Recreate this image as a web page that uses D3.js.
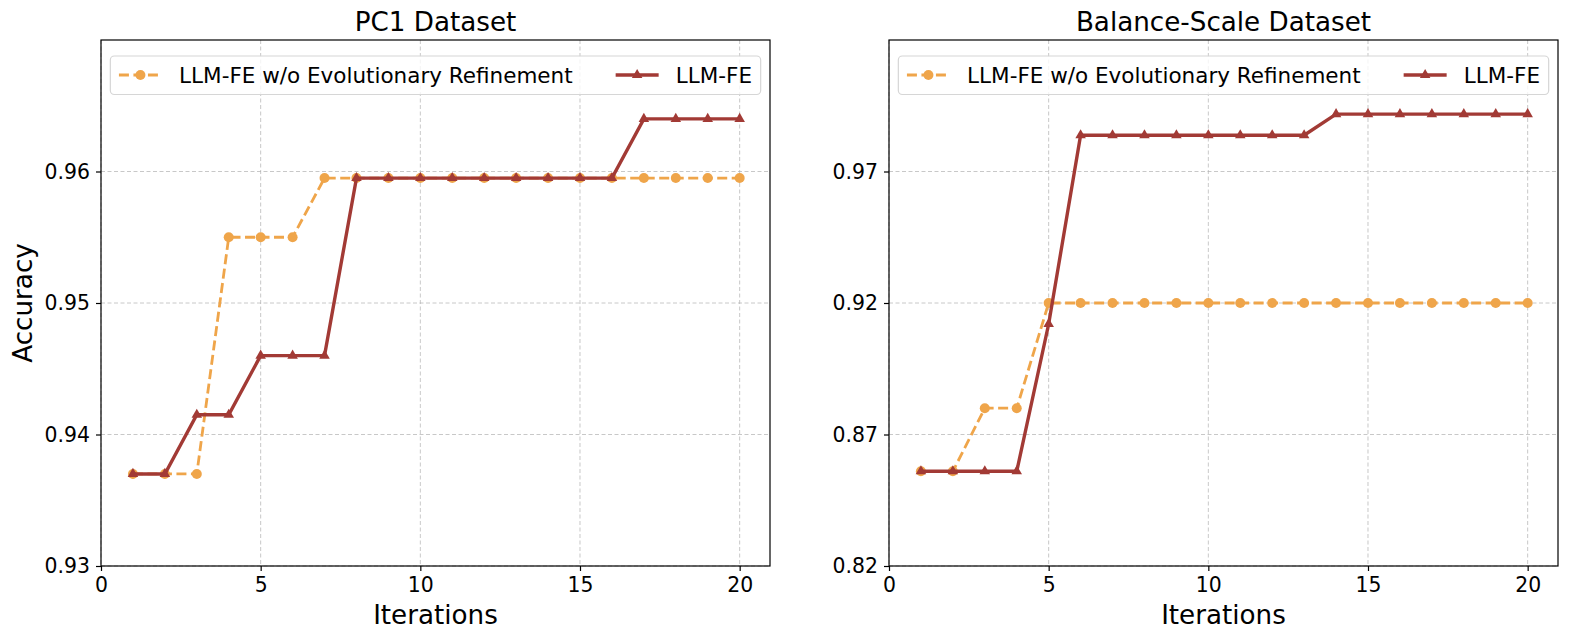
<!DOCTYPE html>
<html>
<head>
<meta charset="utf-8">
<script src="https://cdn.jsdelivr.net/npm/d3@7"></script>
<style>
  html, body { margin: 0; padding: 0; background: #fff; }
  svg { display: block; font-family: "DejaVu Sans", sans-serif; }
</style>
</head>
<body>
<svg id="chart" width="1578" height="641"></svg>
<script>
// ---- data ----
const iterations = [1,2,3,4,5,6,7,8,9,10,11,12,13,14,15,16,17,18,19,20];

const pc1Baseline = [0.937,0.937,0.937,0.955,0.955,0.955,0.9595,0.9595,0.9595,0.9595,
                     0.9595,0.9595,0.9595,0.9595,0.9595,0.9595,0.9595,0.9595,0.9595,0.9595];
const pc1LLMFE    = [0.937,0.937,0.9415,0.9415,0.946,0.946,0.946,0.9595,0.9595,0.9595,
                     0.9595,0.9595,0.9595,0.9595,0.9595,0.9595,0.964,0.964,0.964,0.964];

const bsBaseline  = [0.856,0.856,0.880,0.880,0.920,0.920,0.920,0.920,0.920,0.920,
                     0.920,0.920,0.920,0.920,0.920,0.920,0.920,0.920,0.920,0.920];
const bsLLMFE     = [0.856,0.856,0.856,0.856,0.912,0.9838,0.9838,0.9838,0.9838,0.9838,
                     0.9838,0.9838,0.9838,0.9918,0.9918,0.9918,0.9918,0.9918,0.9918,0.9918];

const xTicks = [0,5,10,15,20];
const pc1YTicks = [0.93,0.94,0.95,0.96];
const bsYTicks  = [0.82,0.87,0.92,0.97];

const seriesNames = ["LLM-FE w/o Evolutionary Refinement", "LLM-FE"];
const titles = ["PC1 Dataset", "Balance-Scale Dataset"];

// ---- style ----
const ORANGE = "#EFA54A";
const RED = "#A23A35";
const TICK_FS = 20.4, LABEL_FS = 26.2, LEG_FS = 21.5;

const svg = d3.select("#chart");

function panel(cfg) {
  const {left, right, top, bottom, xDomain, yDomain, yTicks, base, full, title, ylabel} = cfg;
  const x = d3.scaleLinear().domain(xDomain).range([left, right]);
  const y = d3.scaleLinear().domain(yDomain).range([bottom, top]);
  const g = svg.append("g");

  // grid
  const grid = g.append("g").attr("stroke", "#b0b0b0").attr("stroke-opacity", 0.7)
    .attr("stroke-width", 1).attr("stroke-dasharray", "4,2.5");
  grid.selectAll(".gx").data(xTicks).join("line")
    .attr("x1", d => x(d)).attr("x2", d => x(d)).attr("y1", top).attr("y2", bottom);
  grid.selectAll(".gy").data(yTicks).join("line")
    .attr("x1", left).attr("x2", right).attr("y1", d => y(d)).attr("y2", d => y(d));

  // axes
  const xAxis = d3.axisBottom(x).tickValues(xTicks).tickFormat(d3.format("d")).tickSizeOuter(0).tickSize(5).tickPadding(7);
  const yAxis = d3.axisLeft(y).tickValues(yTicks).tickFormat(d3.format(".2f")).tickSizeOuter(0).tickSize(5).tickPadding(6);
  const gx = g.append("g").attr("transform", `translate(0,${bottom})`).call(xAxis);
  const gy = g.append("g").attr("transform", `translate(${left},0)`).call(yAxis);
  [gx, gy].forEach(a => {
    a.select(".domain").remove();
    a.selectAll("text").attr("font-size", TICK_FS).attr("fill", "#000").attr("font-family", "DejaVu Sans");
    a.selectAll("line").attr("stroke", "#000").attr("stroke-width", 1.2);
  });

  // lines
  const line = d3.line().x((d, i) => x(iterations[i])).y(d => y(d));
  g.append("path").datum(base).attr("d", line).attr("fill", "none")
    .attr("stroke", ORANGE).attr("stroke-width", 2.8).attr("stroke-dasharray", "10,4.5");
  g.selectAll(".dot").data(base).join("circle")
    .attr("cx", (d, i) => x(iterations[i])).attr("cy", d => y(d)).attr("r", 5).attr("fill", ORANGE);

  g.append("path").datum(full).attr("d", line).attr("fill", "none")
    .attr("stroke", RED).attr("stroke-width", 3.4).attr("stroke-linejoin", "miter");
  const tri = d3.symbol().type(d3.symbolTriangle).size(48);
  g.selectAll(".tri").data(full).join("path")
    .attr("d", tri).attr("transform", (d, i) => `translate(${x(iterations[i])},${y(d)})`)
    .attr("fill", RED);

  // frame
  g.append("rect").attr("x", left).attr("y", top).attr("width", right - left).attr("height", bottom - top)
    .attr("fill", "none").attr("stroke", "#000").attr("stroke-width", 1.2);

  // title
  g.append("text").attr("x", (left + right) / 2).attr("y", 30.5).attr("text-anchor", "middle")
    .attr("font-size", LABEL_FS).text(title);
  // x label
  g.append("text").attr("x", (left + right) / 2).attr("y", 623.5).attr("text-anchor", "middle")
    .attr("font-size", LABEL_FS).text("Iterations");
  if (ylabel) {
    g.append("text").attr("transform", `translate(32,${(top + bottom) / 2}) rotate(-90)`)
      .attr("text-anchor", "middle").attr("font-size", LABEL_FS).text(ylabel);
  }

  // legend
  const leg = g.append("g");
  const box = leg.append("rect").attr("fill", "#fff").attr("fill-opacity", 0.8)
    .attr("stroke", "#d6d6d6").attr("stroke-width", 1.2).attr("rx", 4);
  const pad = 0.4 * LEG_FS, hl = 2 * LEG_FS, htp = 0.8 * LEG_FS, colsp = 2 * LEG_FS;
  const ly = 75;
  const items = [];
  seriesNames.forEach((name, k) => {
    const it = leg.append("g");
    const t = it.append("text").attr("x", hl + htp).attr("y", ly).attr("dy", "0.35em")
      .attr("font-size", LEG_FS).text(name);
    if (k === 0) {
      it.append("line").attr("x1", 0).attr("x2", hl).attr("y1", ly).attr("y2", ly)
        .attr("stroke", ORANGE).attr("stroke-width", 2.8).attr("stroke-dasharray", "10,4.5");
      it.append("circle").attr("cx", hl / 2).attr("cy", ly).attr("r", 5).attr("fill", ORANGE);
    } else {
      it.append("line").attr("x1", 0).attr("x2", hl).attr("y1", ly).attr("y2", ly)
        .attr("stroke", RED).attr("stroke-width", 3.4);
      it.append("path").attr("d", tri).attr("transform", `translate(${hl / 2},${ly})`).attr("fill", RED);
    }
    const w = hl + htp + t.node().getComputedTextLength();
    items.push({it, w});
  });
  const totalW = pad * 2 + items[0].w + colsp + items[1].w;
  const bx = (left + right) / 2 - totalW / 2;
  let px = bx + pad;
  items.forEach(({it, w}) => { it.attr("transform", `translate(${px},0)`); px += w + colsp; });
  box.attr("x", bx).attr("y", 56).attr("width", totalW).attr("height", 38.5);
}

panel({left: 101, right: 770, top: 40, bottom: 566, xDomain: [0, 20.95], yDomain: [0.93, 0.97],
       yTicks: pc1YTicks, base: pc1Baseline, full: pc1LLMFE, title: titles[0], ylabel: "Accuracy"});
panel({left: 889, right: 1558, top: 40, bottom: 566, xDomain: [0, 20.95], yDomain: [0.82, 1.02],
       yTicks: bsYTicks, base: bsBaseline, full: bsLLMFE, title: titles[1], ylabel: null});
</script>
</body>
</html>
